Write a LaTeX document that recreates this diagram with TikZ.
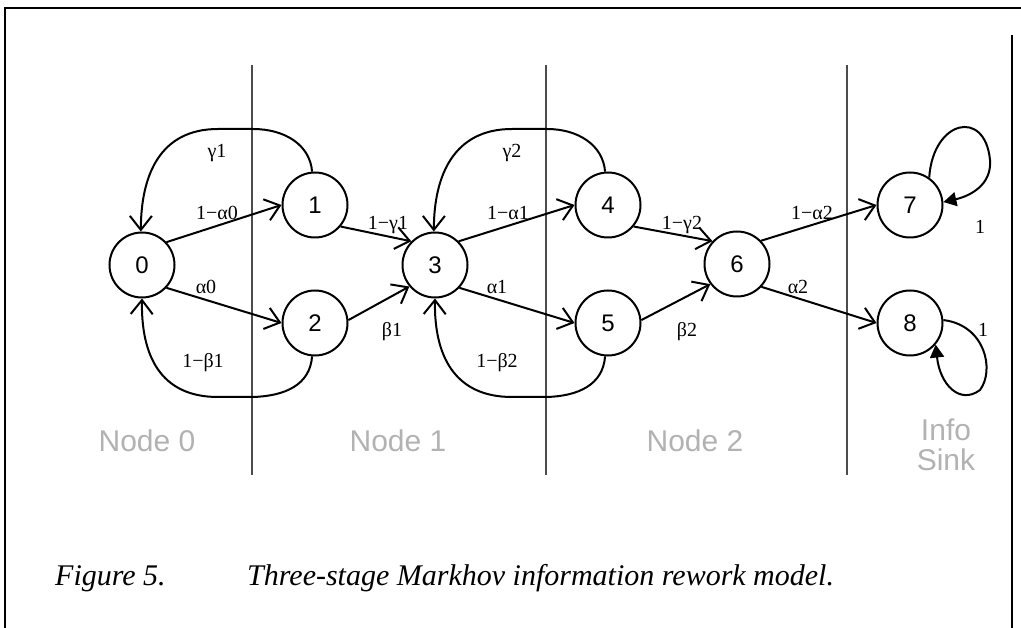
\documentclass[tikz,border=0pt]{standalone}
\usepackage{fontspec}
\setmainfont{Liberation Serif}
\newfontfamily\arialf{Liberation Sans}
\usetikzlibrary{arrows.meta}
\begin{document}
\begin{tikzpicture}[x=1pt,y=-1pt,
  st/.style={circle,draw,line width=2pt,minimum size=65pt,inner sep=0pt,font=\arialf\fontsize{24}{26}\selectfont},
  arr/.style={line width=2pt,-{Straight Barb[length=14pt,width=22pt,line width=2pt]}},
  farr/.style={line width=2pt,-{Triangle[length=13pt,width=14pt]}},
  lbl/.style={font=\fontsize{20}{22}\selectfont,inner sep=0pt},
  stage/.style={font=\arialf\fontsize{30}{32}\selectfont,text=black!30,inner sep=0pt},
  divider/.style={line width=1.1pt,black!70},
  frame/.style={line width=1.8pt}]
\useasboundingbox (0,0) rectangle (1021,628);
% frame
\draw[frame] (5,628) -- (5,8) -- (1021,8);
\draw[frame] (1012,35) -- (1012,628);
% dividers
\draw[divider] (252,65) -- (252,475);
\draw[divider] (546,65) -- (546,475);
\draw[divider] (847,65) -- (847,475);
% states
\node[st] (n0) at (142,265) {0};
\node[st] (n1) at (315,205) {1};
\node[st] (n2) at (315,323) {2};
\node[st] (n3) at (435,265) {3};
\node[st] (n4) at (608,205) {4};
\node[st] (n5) at (608,323) {5};
\node[st] (n6) at (737,264) {6};
\node[st] (n7) at (910,205) {7};
\node[st] (n8) at (910,323) {8};
% forward edges
\draw[arr] (n0.43) -- (n1.180);
\draw[arr] (n0.-43) -- (n2.180);
\draw[arr] (n1.-40) -- (n3.135);
\draw[arr] (n2.5) -- (n3.220);
\draw[arr] (n3.45) -- (n4.180);
\draw[arr] (n3.-43) -- (n5.180);
\draw[arr] (n4.-40) -- (n6.137);
\draw[arr] (n5.5) -- (n6.217);
\draw[arr] (n6.44) -- (n7.180);
\draw[arr] (n6.-43) -- (n8.180);
% rework loops
\draw[arr] (n1.95) .. controls (310,145) and (285,129) .. (253,129) -- (218,129)
  .. controls (160,129) and (141,175) .. (n0.92);
\draw[arr] (n2.-95) .. controls (310,385) and (285,396) .. (253,397) -- (218,397)
  .. controls (160,397) and (141,355) .. (n0.-90);
\draw[arr] (n4.95) .. controls (603,145) and (578,129) .. (547,129) -- (512,129)
  .. controls (454,129) and (434,175) .. (n3.92);
\draw[arr] (n5.-95) .. controls (603,385) and (578,396) .. (547,397) -- (512,397)
  .. controls (454,397) and (434,355) .. (n3.-90);
% sink self loops
\draw[farr] (n7.55) .. controls (933,120) and (985,108) .. (990,160)
  .. controls (992,185) and (970,196) .. (n7.5);
\draw[farr] (n8.5) .. controls (985,325) and (995,370) .. (980,390)
  .. controls (960,405) and (940,385) .. (n8.-40);
% labels
\node[lbl] (l1) at (217,153) {γ1};
\node[lbl] (l2) at (217,213) {1−α0};
\node[lbl] (l3) at (206,287) {α0};
\node[lbl] (l4) at (203,363) {1−β1};
\node[lbl] (l5) at (388,225) {1−γ1};
\node[lbl] (l6) at (392,332) {β1};
\node[lbl] (l7) at (512,153) {γ2};
\node[lbl] (l8) at (508,213) {1−α1};
\node[lbl] (l9) at (497,287) {α1};
\node[lbl] (l10) at (497,363) {1−β2};
\node[lbl] (l11) at (682,225) {1−γ2};
\node[lbl] (l12) at (687,332) {β2};
\node[lbl] (l13) at (812,213) {1−α2};
\node[lbl] (l14) at (798,287) {α2};
\node[lbl] (l15) at (980,227) {1};
\node[lbl] (l16) at (983,330) {1};
% stage names
\node[stage] (s0) at (147,441) {Node 0};
\node[stage] (s1) at (398,441) {Node 1};
\node[stage] (s2) at (695,441) {Node 2};
\node[stage,align=center] (s3) at (946,445) {Info\\[-2pt]Sink};
% caption
\node[anchor=base west,inner sep=0pt,font=\itshape\fontsize{30}{32}\selectfont] (c1) at (55,585) {Figure 5.};
\node[anchor=base west,inner sep=0pt,font=\itshape\fontsize{30}{32}\selectfont] (c2) at (247,585) {Three-stage Markhov information rework model.};
\end{tikzpicture}
\end{document}
